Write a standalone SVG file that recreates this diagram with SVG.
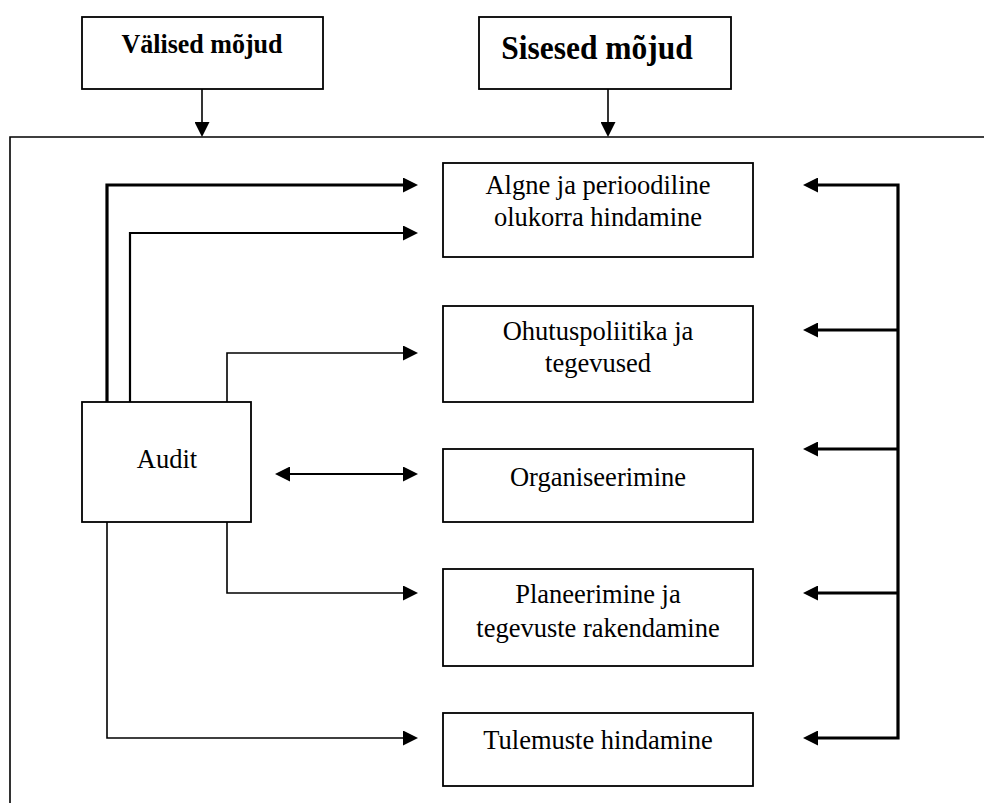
<svg xmlns="http://www.w3.org/2000/svg" width="984" height="803" viewBox="0 0 984 803">
  <style>
    .box { fill: #fff; stroke: #000; stroke-width: 1.8; }
    .frame { fill: none; stroke: #000; stroke-width: 1.6; }
    .ln { fill: none; stroke: #000; stroke-linejoin: miter; }
    .thin { stroke-width: 1.6; }
    .mid { stroke-width: 2.2; }
    .thick { stroke-width: 3.2; }
    .lbl { font-family: "Liberation Serif", "Times New Roman", serif; font-size: 26.5px; fill: #000; text-anchor: middle; }
    .head { font-family: "Liberation Serif", "Times New Roman", serif; font-weight: bold; fill: #000; text-anchor: middle; }
  </style>
  <defs>
    <marker id="arrow" viewBox="0 0 15 15" refX="7" refY="7.5" markerWidth="15" markerHeight="15" markerUnits="userSpaceOnUse" orient="auto-start-reverse">
      <path d="M0,0 L15,7.5 L0,15 z" fill="#000"/>
    </marker>
  </defs>

  <rect width="984" height="803" fill="#fff"/>

  <!-- outer frame (open to the right and bottom) -->
  <path class="frame" d="M984,137 H10 V803"/>

  <!-- influence boxes above the frame -->
  <g id="valised">
    <rect class="box" x="82" y="17" width="241" height="72"/>
    <text class="head" font-size="26" transform="translate(202,53) scale(1,1.06)">Välised mõjud</text>
  </g>
  <g id="sisesed">
    <rect class="box" x="479" y="17" width="252" height="72"/>
    <text class="head" font-size="31.5" transform="translate(597,59) scale(1,1.1)">Sisesed mõjud</text>
  </g>

  <!-- audit -->
  <g id="audit">
    <rect class="box" x="82" y="402" width="169" height="120"/>
    <text class="lbl" transform="translate(167,468) scale(1,1.05)">Audit</text>
  </g>

  <!-- process steps -->
  <g id="algne">
    <rect class="box" x="443" y="163" width="310" height="94"/>
    <text class="lbl" transform="translate(598,194) scale(1,1.05)">Algne ja perioodiline</text>
    <text class="lbl" transform="translate(598,226) scale(1,1.05)">olukorra hindamine</text>
  </g>
  <g id="ohutuspoliitika">
    <rect class="box" x="443" y="306" width="310" height="96"/>
    <text class="lbl" transform="translate(598,340) scale(1,1.05)">Ohutuspoliitika ja</text>
    <text class="lbl" transform="translate(598,372) scale(1,1.05)">tegevused</text>
  </g>
  <g id="organiseerimine">
    <rect class="box" x="443" y="449" width="310" height="73"/>
    <text class="lbl" transform="translate(598,486) scale(1,1.05)">Organiseerimine</text>
  </g>
  <g id="planeerimine">
    <rect class="box" x="443" y="569" width="310" height="97"/>
    <text class="lbl" transform="translate(598,603) scale(1,1.05)">Planeerimine ja</text>
    <text class="lbl" transform="translate(598,637) scale(1,1.05)">tegevuste rakendamine</text>
  </g>
  <g id="tulemuste">
    <rect class="box" x="443" y="713" width="310" height="73"/>
    <text class="lbl" transform="translate(598,749) scale(1,1.05)">Tulemuste hindamine</text>
  </g>

  <!-- connectors -->
  <g id="connectors">
    <!-- influences into the frame -->
    <path class="ln thin" d="M202,89 V129" marker-end="url(#arrow)"/>
    <path class="ln thin" d="M608,89 V129" marker-end="url(#arrow)"/>

    <!-- audit to the steps -->
    <path class="ln thick" d="M107,402 V185 H410" marker-end="url(#arrow)"/>
    <path class="ln mid" d="M130,402 V233 H410" marker-end="url(#arrow)"/>
    <path class="ln thin" d="M227,402 V353 H410" marker-end="url(#arrow)"/>
    <path class="ln mid" d="M283,474 H410" marker-start="url(#arrow)" marker-end="url(#arrow)"/>
    <path class="ln thin" d="M227,522 V593 H410" marker-end="url(#arrow)"/>
    <path class="ln thin" d="M107,522 V738 H410" marker-end="url(#arrow)"/>

    <!-- feedback bracket on the right -->
    <path class="ln thick" d="M811,185 H898 V738 H811" marker-start="url(#arrow)" marker-end="url(#arrow)"/>
    <path class="ln thick" d="M898,330 H811" marker-end="url(#arrow)"/>
    <path class="ln thick" d="M898,449 H811" marker-end="url(#arrow)"/>
    <path class="ln thick" d="M898,593 H811" marker-end="url(#arrow)"/>
  </g>
</svg>
